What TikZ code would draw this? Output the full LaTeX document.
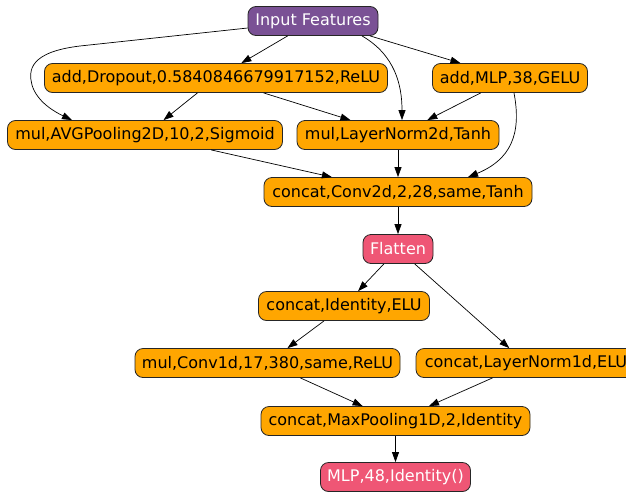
\documentclass[tikz,border=0pt]{standalone}
\usepackage{fontspec}
\setmainfont{DejaVu Sans}
\usetikzlibrary{arrows.meta}
\definecolor{orng}{HTML}{FFA600}
\definecolor{purp}{HTML}{7A5195}
\definecolor{pnk}{HTML}{EF5675}
\begin{document}
\begin{tikzpicture}[x=1pt,y=-1pt,
  box/.style={draw=black!85, line width=0.8pt, rounded corners=8pt, minimum height=29pt,
    inner xsep=3pt, inner ysep=0pt, font=\fontsize{16}{19}\selectfont, text=black, fill=orng},
  darkbox/.style={box, text=white},
  edge/.style={-{Triangle[length=10pt,width=7pt]}, line width=0.7pt}]
\useasboundingbox (0,0) rectangle (626,493);
\node[darkbox, fill=purp, minimum width=130pt] (in) at (313,21) {Input Features};
\node[box, minimum width=343pt] (drop) at (216,78) {add,Dropout,0.5840846679917152,ReLU};
\node[box, minimum width=155pt] (mlp) at (510,78) {add,MLP,38,GELU};
\node[box, minimum width=275pt] (avg) at (145,135) {mul,AVGPooling2D,10,2,Sigmoid};
\node[box, minimum width=202pt] (ln2) at (398,135) {mul,LayerNorm2d,Tanh};
\node[box, minimum width=268pt] (conv2) at (398,192) {concat,Conv2d,2,28,same,Tanh};
\node[darkbox, fill=pnk, minimum width=70pt] (flat) at (398,249) {Flatten};
\node[box, minimum width=171pt] (id) at (344,306) {concat,Identity,ELU};
\node[box, minimum width=265pt] (conv1) at (267.5,363) {mul,Conv1d,17,380,same,ReLU};
\node[box, minimum width=220pt] (ln1) at (526,363) {concat,LayerNorm1d,ELU};
\node[box, minimum width=269pt] (maxp) at (395.5,421) {concat,MaxPooling1D,2,Identity};
\node[darkbox, fill=pnk, minimum width=150pt] (out) at (395.5,477) {MLP,48,Identity()};

\draw[edge] (in) -- (drop);
\draw[edge] (in) -- (80,46) .. controls (30,52) and (28,70) .. (32,85)
  .. controls (37,102) and (55,112) .. ([xshift=-73pt]avg.north);
\draw[edge] ([xshift=49pt]in.south) .. controls (395,55) and (402,85) .. ([xshift=4pt]ln2.north);
\draw[edge] ([xshift=57pt]in.south) -- (mlp);
\draw[edge] (drop) -- (avg);
\draw[edge] (drop) -- (ln2);
\draw[edge] (mlp) -- (ln2);
\draw[edge] ([xshift=4pt]mlp.south) .. controls (522,135) and (510,160) .. ([xshift=70pt]conv2.north);
\draw[edge] (avg) -- (conv2);
\draw[edge] (ln2) -- (conv2);
\draw[edge] (conv2) -- (flat);
\draw[edge] (flat) -- (id);
\draw[edge] (flat) -- (ln1);
\draw[edge] (id) -- (conv1);
\draw[edge] (conv1) -- (maxp);
\draw[edge] (ln1) -- (maxp);
\draw[edge] (maxp) -- (out);
\end{tikzpicture}
\end{document}
